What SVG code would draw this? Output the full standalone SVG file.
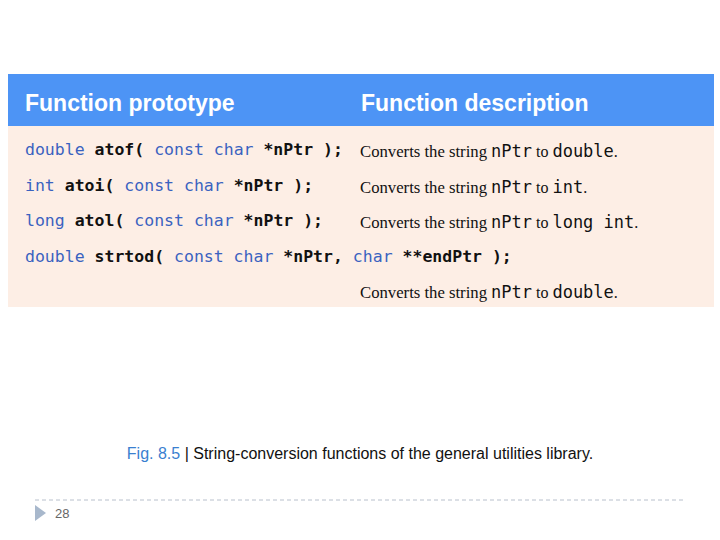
<svg xmlns="http://www.w3.org/2000/svg" width="720" height="540" viewBox="0 0 720 540">
<style>
.h{font-family:"Liberation Sans",Arial,sans-serif;font-weight:bold;font-size:23px;fill:#fff}
.c{font-family:"DejaVu Sans Mono",monospace;font-size:16.5px;font-weight:bold;fill:#111}
.k{fill:#3a62c0;font-weight:normal}
.d{font-family:"Liberation Serif",serif;font-size:16px;fill:#111}
.m{font-family:"DejaVu Sans Mono",monospace;font-size:17px}
</style>
<rect width="720" height="540" fill="#fff"/>
<g id="table">
<rect x="8" y="74" width="706" height="52" fill="#4d94f5"/>
<rect x="8" y="126" width="706" height="181" fill="#fdeee5"/>
<text class="h" x="25" y="111">Function prototype</text>
<text class="h" x="361" y="111">Function description</text>
</g>
<g id="row1">
<text class="c" x="25" y="155"><tspan class="k">double</tspan> atof( <tspan class="k">const char</tspan> *nPtr );</text>
<text class="d" x="360" y="157"><tspan textLength="127" lengthAdjust="spacingAndGlyphs">Converts the string</tspan> <tspan class="m">nPtr</tspan> to <tspan class="m">double</tspan>.</text>
</g>
<g id="row2">
<text class="c" x="25" y="191"><tspan class="k">int</tspan> atoi( <tspan class="k">const char</tspan> *nPtr );</text>
<text class="d" x="360" y="193"><tspan textLength="127" lengthAdjust="spacingAndGlyphs">Converts the string</tspan> <tspan class="m">nPtr</tspan> to <tspan class="m">int</tspan>.</text>
</g>
<g id="row3">
<text class="c" x="25" y="226"><tspan class="k">long</tspan> atol( <tspan class="k">const char</tspan> *nPtr );</text>
<text class="d" x="360" y="228"><tspan textLength="127" lengthAdjust="spacingAndGlyphs">Converts the string</tspan> <tspan class="m">nPtr</tspan> to <tspan class="m">long int</tspan>.</text>
</g>
<g id="row4">
<text class="c" x="25" y="262"><tspan class="k">double</tspan> strtod( <tspan class="k">const char</tspan> *nPtr, <tspan class="k">char</tspan> **endPtr );</text>
<text class="d" x="360" y="298"><tspan textLength="127" lengthAdjust="spacingAndGlyphs">Converts the string</tspan> <tspan class="m">nPtr</tspan> to <tspan class="m">double</tspan>.</text>
</g>
<g id="caption">
<text x="360" y="459" text-anchor="middle" font-family="Liberation Sans,Arial,sans-serif" font-size="16" fill="#111"><tspan fill="#3a7fd0">Fig. 8.5</tspan> | String-conversion functions of the general utilities library.</text>
</g>
<g id="footer">
<line x1="35" y1="500" x2="685" y2="500" stroke="#b8c0cc" stroke-dasharray="4,3"/>
<polygon points="35,505 46,513 35,521" fill="#a8b8cc"/>
<text x="55" y="518" font-family="Liberation Sans,Arial,sans-serif" font-size="13" fill="#666">28</text>
</g>
</svg>
